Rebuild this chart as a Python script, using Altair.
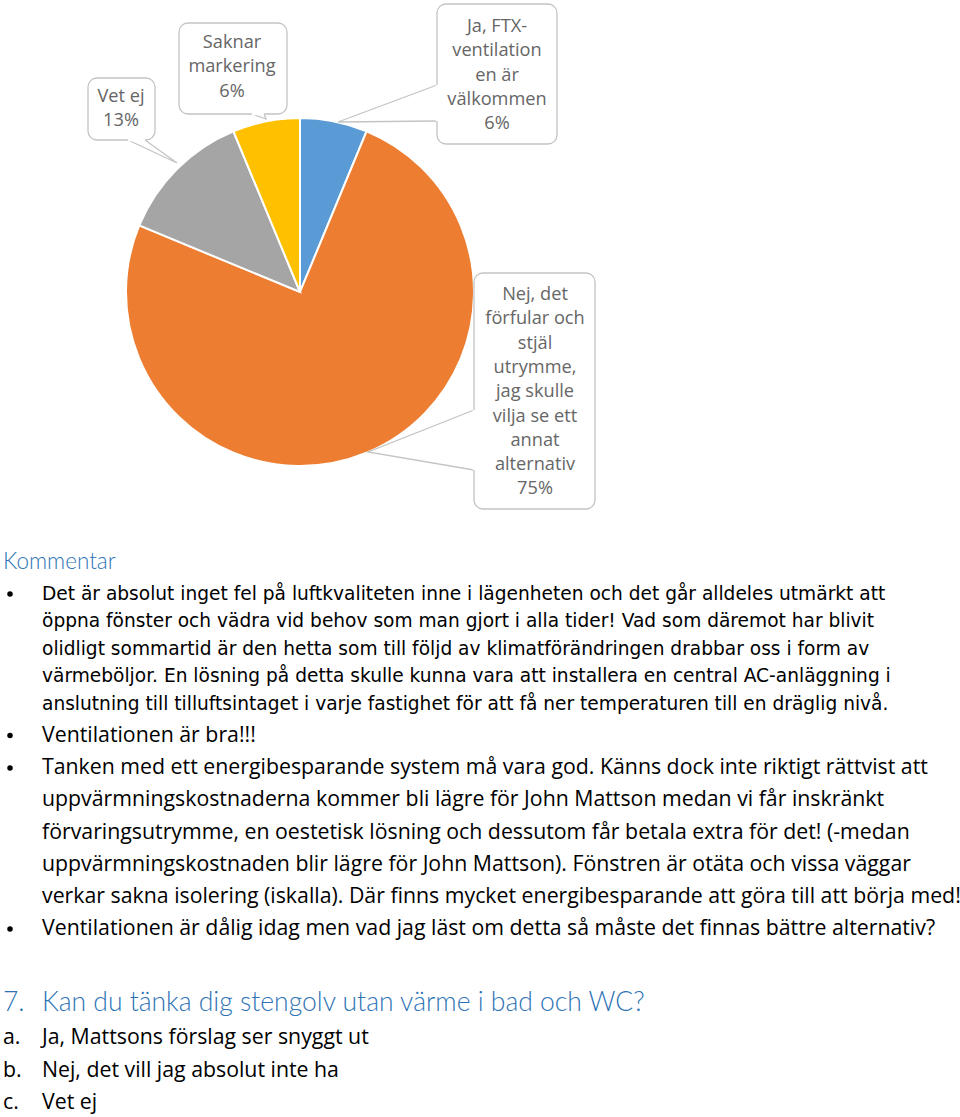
import altair as alt
import pandas as pd

# ---------------- data ----------------
categories = ["Ja, FTX-ventilation en är välkommen",
              "Nej, det förfular och stjäl utrymme, jag skulle vilja se ett annat alternativ",
              "Vet ej",
              "Saknar markering"]
shares = [6.25, 75.0, 12.5, 6.25]
pct_labels = ["6%", "75%", "13%", "6%"]
label_lines = [
    ["Ja, FTX-", "ventilation", "en är", "välkommen"],
    ["Nej, det", "förfular och", "stjäl", "utrymme,", "jag skulle", "vilja se ett", "annat", "alternativ"],
    ["Vet ej"],
    ["Saknar", "markering"],
]
colors = ["#5B9BD5", "#ED7D31", "#A5A5A5", "#FFC000"]

comment_title = "Kommentar"
comment_arial = [
    "Det är absolut inget fel på luftkvaliteten inne i lägenheten och det går alldeles utmärkt att",
    "öppna fönster och vädra vid behov som man gjort i alla tider! Vad som däremot har blivit",
    "olidligt sommartid är den hetta som till följd av klimatförändringen drabbar oss i form av",
    "värmeböljor. En lösning på detta skulle kunna vara att installera en central AC-anläggning i",
    "anslutning till tilluftsintaget i varje fastighet för att få ner temperaturen till en dräglig nivå.",
]
comment_calibri = [
    "Ventilationen är bra!!!",
    "Tanken med ett energibesparande system må vara god. Känns dock inte riktigt rättvist att",
    "uppvärmningskostnaderna kommer bli lägre för John Mattson medan vi får inskränkt",
    "förvaringsutrymme, en oestetisk lösning och dessutom får betala extra för det! (-medan",
    "uppvärmningskostnaden blir lägre för John Mattson). Fönstren är otäta och vissa väggar",
    "verkar sakna isolering (iskalla). Där finns mycket energibesparande att göra till att börja med!",
    "Ventilationen är dålig idag men vad jag läst om detta så måste det finnas bättre alternativ?",
]
calibri_bullet_flags = [True, True, False, False, False, False, True]
question_num = "7."
question_text = "Kan du tänka dig stengolv utan värme i bad och WC?"
option_keys = ["a.", "b.", "c."]
option_texts = ["Ja, Mattsons förslag ser snyggt ut", "Nej, det vill jag absolut inte ha", "Vet ej"]

# ---------------- layout ----------------
W, H = 960, 1117
CX, CY, R = 300, 292, 174
# callout boxes: x0, y0, x1, y1, centre x, first line y
boxes = [
    (437, 4, 557, 144, 497, 27),
    (474, 273, 595, 509, 535, 295),
    (88, 78, 155, 140, 121, 97),
    (179, 23, 287, 114, 232, 43),
]
# tails: base1, tip, base2
tails = [
    ((437, 85), (338, 122), (437, 121)),
    ((474, 410), (368, 452), (474, 470)),
    ((128, 140), (177, 163), (145, 140)),
    ((252, 114), (266, 119), (264, 114)),
]
LH = 24.3
BODY = "Open Sans"

xs = alt.Scale(domain=[0, W], nice=False, zero=False)
ys = alt.Scale(domain=[0, H], nice=False, zero=False, reverse=True)
X = lambda f: alt.X(f, type="quantitative", scale=xs, axis=None)
Y = lambda f: alt.Y(f, type="quantitative", scale=ys, axis=None)
X2 = lambda f: alt.X2(f)
Y2 = lambda f: alt.Y2(f)

# ---- pie ----
pie_df = pd.DataFrame({"cat": categories, "share": shares, "idx": list(range(len(categories)))})
pie = alt.Chart(pie_df).mark_arc(outerRadius=R, stroke="white", strokeWidth=2).encode(
    theta=alt.Theta("share:Q", stack=True),
    order=alt.Order("idx:Q"),
    color=alt.Color("cat:N", scale=alt.Scale(domain=categories, range=colors), legend=None),
    x=alt.value(CX), y=alt.value(CY),
)

# ---- callouts ----
box_df = pd.DataFrame([{"x0": b[0], "y0": b[1], "x1": b[2], "y1": b[3]} for b in boxes])
box_layer = alt.Chart(box_df).mark_rect(fill="white", stroke="#C4C4C4", strokeWidth=1.3,
                                        cornerRadius=9).encode(
    x=X("x0"), x2=X2("x1"), y=Y("y0"), y2=Y2("y1"))

gap_df = pd.DataFrame([{"x0": t[0][0], "y0": t[0][1], "x1": t[2][0], "y1": t[2][1]} for t in tails])
gap_layer = alt.Chart(gap_df).mark_rule(color="white", strokeWidth=2.5).encode(
    x=X("x0"), x2=X2("x1"), y=Y("y0"), y2=Y2("y1"))

tail_rows = []
for i, t in enumerate(tails):
    for j, p in enumerate(t):
        tail_rows.append({"g": i, "o": j, "x": p[0], "y": p[1]})
tail_df = pd.DataFrame(tail_rows)
tail_layer = alt.Chart(tail_df).mark_line(color="#C4C4C4", strokeWidth=1.3).encode(
    x=X("x"), y=Y("y"), detail="g:N", order="o:Q")

lab_rows = []
for i, lines in enumerate(label_lines):
    allines = lines + [pct_labels[i]]
    for j, s in enumerate(allines):
        lab_rows.append({"x": boxes[i][4], "y": boxes[i][5] + j * LH, "t": s})
lab_layer = alt.Chart(pd.DataFrame(lab_rows)).mark_text(
    font=BODY, fontSize=18.2, color="#666666", align="center", baseline="middle").encode(
    x=X("x"), y=Y("y"), text="t:N")

# ---- comment section ----
title_layer = alt.Chart(pd.DataFrame([{"x": 3, "y": 562, "t": comment_title}])).mark_text(
    font="Lato", fontSize=22.5, fontWeight=300, color="#2E74B5", align="left", baseline="middle").encode(
    x=X("x"), y=Y("y"), text="t:N")

arial_rows = [{"x": 42, "y": 594 + i * 27.4, "t": s} for i, s in enumerate(comment_arial)]
arial_layer = alt.Chart(pd.DataFrame(arial_rows)).mark_text(
    font="DejaVu Sans", fontSize=18.6, color="#000000", align="left", baseline="middle").encode(
    x=X("x"), y=Y("y"), text="t:N")

cal_rows = [{"x": 42, "y": 735.5 + i * 32.2 + (0 if i == 0 else 0.4), "t": s} for i, s in enumerate(comment_calibri)]
cal_layer = alt.Chart(pd.DataFrame(cal_rows)).mark_text(
    font=BODY, fontSize=21.3, color="#000000", align="left", baseline="middle").encode(
    x=X("x"), y=Y("y"), text="t:N")

bul_rows = [{"x": 10, "y": 594}] + [{"x": 10, "y": r["y"]} for r, f in zip(cal_rows, calibri_bullet_flags) if f]
bul_layer = alt.Chart(pd.DataFrame(bul_rows)).mark_circle(size=30, color="#000000", opacity=1).encode(
    x=X("x"), y=Y("y"))

q_rows = [{"x": 3, "y": 1003, "t": question_num}, {"x": 42, "y": 1003, "t": question_text}]
q_layer = alt.Chart(pd.DataFrame(q_rows)).mark_text(
    font="Lato", fontSize=26.5, fontWeight=300, color="#2E74B5", align="left", baseline="middle").encode(
    x=X("x"), y=Y("y"), text="t:N")

opt_rows = []
for i, (k, s) in enumerate(zip(option_keys, option_texts)):
    opt_rows.append({"x": 3, "y": 1038 + i * 32.5, "t": k})
    opt_rows.append({"x": 42, "y": 1038 + i * 32.5, "t": s})
opt_layer = alt.Chart(pd.DataFrame(opt_rows)).mark_text(
    font=BODY, fontSize=21.3, color="#000000", align="left", baseline="middle").encode(
    x=X("x"), y=Y("y"), text="t:N")

chart = alt.layer(
    pie, tail_layer, box_layer, gap_layer, lab_layer,
    title_layer, arial_layer, cal_layer, bul_layer, q_layer, opt_layer
).properties(
    width=W, height=H, padding=0, autosize=alt.AutoSizeParams(type="none"), background="white"
).configure_view(stroke=None)

chart.save("out.html", embed_options={"renderer": "svg", "actions": False})
